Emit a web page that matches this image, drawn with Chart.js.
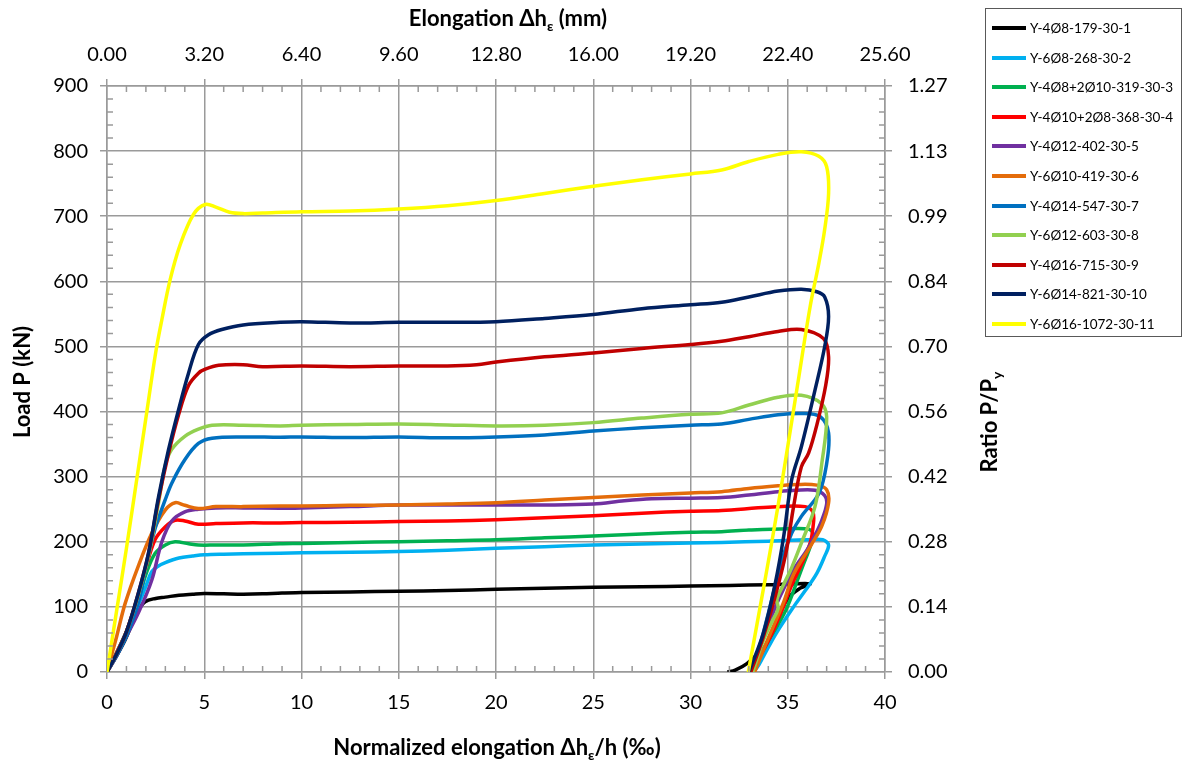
<!DOCTYPE html>
<html>
<head>
<meta charset="utf-8">
<script src="https://cdn.jsdelivr.net/npm/chart.js@4.4.1/dist/chart.umd.min.js"></script>
<style>
body { margin: 0; background: #fff; }
#wrap { position: relative; width: 1188px; height: 764px; }
#legend { position: absolute; left: 985px; top: 8px; width: 197px; height: 329px; border: 1px solid #595959;
          font-family: Lato, sans-serif; font-size: 13.5px; color: #000; box-sizing: border-box; }
.item { position: absolute; left: 6px; height: 20px; display: flex; align-items: center; white-space: nowrap; }
.swatch { width: 34px; height: 4px; margin-right: 4px; }
</style>
</head>
<body>
<div id="wrap">
  <canvas id="loadChart" width="1188" height="764"></canvas>
  <div id="legend"></div>
</div>
<script>
// specimen names (legend order)
const seriesLabels = ['Y-4Ø8-179-30-1', 'Y-6Ø8-268-30-2', 'Y-4Ø8+2Ø10-319-30-3', 'Y-4Ø10+2Ø8-368-30-4',
    'Y-4Ø12-402-30-5', 'Y-6Ø10-419-30-6', 'Y-4Ø14-547-30-7', 'Y-6Ø12-603-30-8',
    'Y-4Ø16-715-30-9', 'Y-6Ø14-821-30-10', 'Y-6Ø16-1072-30-11'];
const seriesColors = ['#000000', '#00B0F0', '#00B050', '#FF0000', '#7030A0', '#E46C0A',
    '#0070C0', '#92D050', '#C00000', '#002060', '#FFFF00'];

// secondary axis tick labels
const elongLabels = ['0.00', '3.20', '6.40', '9.60', '12.80', '16.00', '19.20', '22.40', '25.60'];
const ratioLabels = ['0.00', '0.14', '0.28', '0.42', '0.56', '0.70', '0.84', '0.99', '1.13', '1.27'];

// [normalized elongation (‰), load (kN)]
const s1 = [[0,0],[0.5,25],[0.93,49],[1.3,75],[1.6,95],[1.96,108],[2.5,113],[3,115],[3.7,118],[4.4,119.5],[5,120.5],[6,120],[7,119.5],[8,120],[9,121.5],[10,122],[12.5,123],[15,124],[17.5,125],[20,127],[22.5,128.5],[25,130],[27.5,131],[30,132],[32,133],[34,134],[35,135],[36.15,135.5],[35.6,128],[35.0,113],[34.6,88],[34.3,58],[33.7,35],[32.9,13],[32.3,3],[31.9,0]];
const s2 = [[0,0],[0.5,30],[1,62],[1.5,95],[2,132],[2.3,154],[2.6,162],[3,168],[3.7,175],[4.4,178],[5,180],[6,181],[7,181.5],[8.9,182.5],[10,183],[12.5,184],[15,185],[17.5,187],[20,190],[22.5,192.5],[25,195],[27.5,196.5],[30,198],[31.6,199],[34,201],[36,203],[36.8,203],[37.1,195],[36.9,178],[36.5,152],[35.9,125],[35.3,100],[34.4,59],[33.75,24],[33.4,6],[33.1,0]];
const s3 = [[0,0],[0.5,30],[1,62],[1.6,110],[2,150],[2.47,182],[3,195],[3.5,200],[4.2,197],[4.7,195],[5.6,195],[7,195],[8.9,197],[10,197.5],[12.5,199],[15,200],[17.5,201.5],[20,203],[22.5,206],[25,209],[27.5,212],[30,214.5],[31.6,215.5],[33,218],[35,220],[36.1,219],[36.3,211],[36.15,192],[35.8,165],[35.5,141],[34.9,95],[34.0,48],[33.1,0]];
const s4 = [[0,0],[0.5,30],[1,62],[1.6,115],[2,160],[2.47,203],[3,223],[3.5,233],[4,232],[4.7,227],[5.6,228],[7,229],[8.9,229],[10,229.5],[12.5,230],[15,231],[17.5,232],[20,234],[22.5,237],[25,240],[27.5,244],[30,247],[31.6,248],[34,253],[35.9,254],[36.3,245],[36.3,223],[36.15,198],[35.7,165],[35.2,133],[34.7,95],[34.2,60],[33.65,28],[33.1,0]];
const s5 = [[0,0],[0.5,25],[1,55],[1.6,90],[2.3,141],[2.82,200],[3.33,232],[4,246],[4.7,250],[5.6,252],[7,252],[8.9,251.5],[10,252],[12.5,254],[15,256.5],[17.5,256.5],[20,256.5],[22.5,256.5],[25,258],[26.6,263],[28,266],[30,267],[31.6,268],[33,272],[34.5,277],[35.4,279],[36.4,279],[36.9,271],[37.0,258],[36.75,233],[36.4,210],[36.0,188],[35.3,157],[34.6,116],[34.1,80],[33.57,39],[33.2,0]];
const s6 = [[0,0],[0.5,55],[0.93,105],[1.6,162],[2.3,213],[3,249],[3.5,260],[4,256],[4.7,251],[5.6,254],[7,254],[8.9,255],[10,255],[12.5,256],[15,256.5],[17.5,258],[20,260],[22.5,264],[25,268],[27.5,272],[30,275],[31.6,277],[33,282],[34.5,286],[35.5,288],[36.5,287],[37.0,280],[37.1,260],[36.75,224],[36.2,195],[35.3,150],[34.8,108],[34.26,70],[33.75,34],[33.3,0]];
const s7 = [[0,0],[0.5,25],[1,55],[1.6,105],[2,160],[2.47,220],[3,265],[3.33,290],[4,326],[4.7,351],[5.4,359],[7,361],[8.9,360.5],[10,361],[12.5,360],[15,361],[17.5,359.6],[20,361],[22.5,364],[25,370],[27.5,375],[30,379],[31.6,381],[33,388],[34.5,395],[35.7,397],[36.67,392],[37.1,367],[37.0,320],[36.6,274],[35.7,239],[35.2,213],[34.7,172],[34.0,90],[33.5,35],[33.0,0]];
const s8 = [[0,0],[0.5,28],[1,62],[1.6,118],[2.13,178],[2.65,260],[3,318],[3.33,342],[4,362],[4.7,373],[5.4,379],[7,379],[8.9,378],[10,379],[12.5,380],[15,381],[17.5,379.5],[20,378],[22.5,379],[25,383],[27.5,390],[30,396],[31.6,398],[33,410],[34.5,422],[35.7,425],[36.7,413],[37.0,392],[36.75,320],[36.4,254],[35.7,198],[35.2,160],[34.8,135],[34.45,112],[34.5,97],[34.2,78],[33.75,49],[33.2,0]];
const s9 = [[0,0],[0.5,28],[1,62],[1.6,120],[2.13,182],[2.65,265],[3.16,335],[3.68,395],[4.19,440],[4.7,459],[5.05,465],[5.74,471],[7,472],[8,469],[10,470],[12.5,469],[15,470],[17.5,470],[19,472],[20,476],[22.5,484],[25,490],[27.5,497],[30,503],[31.6,508],[33,515],[34.5,523],[35.7,526],[36.84,512],[37.1,484],[36.95,440],[36.5,380],[36.07,336],[35.7,315],[35.3,254],[34.9,182],[34.3,110],[33.7,50],[33.1,0]];
const s10 = [[0,0],[0.5,28],[1,62],[1.6,120],[2.13,182],[2.65,269],[3.16,341],[3.68,403],[4.19,459],[4.7,503],[5.22,518],[5.9,526],[7,533],[8.9,537],[10,538],[12.5,536],[15,537],[17.5,537],[20,538],[22.5,543],[25,549],[27.5,558],[30,564],[31.6,568],[33,576],[34.5,585],[35.7,588],[36.5,584],[36.9,576],[37.1,546],[36.9,500],[36.4,433],[35.7,346],[35.2,295],[34.8,210],[34.35,135],[33.75,60],[33.0,0]];
const s11 = [[0,0],[0.5,95],[1,190],[1.5,290],[2,390],[2.5,490],[2.82,541],[3.25,603],[3.76,656],[4.45,703],[5.05,718],[5.6,714],[6.3,706],[7,704],[8,705],[10,707],[12.5,708],[15,711],[17.5,716],[20,724],[22.5,735],[25,746],[27.5,756],[30,765],[31.6,771],[33,784],[34.5,795],[35.7,799],[36.6,792],[37.0,776],[37.1,735],[36.9,680],[36.6,628],[36.15,561],[35.5,440],[34.75,300],[34.2,203],[33.55,95],[32.97,0]];

const allSeries = [s1, s2, s3, s4, s5, s6, s7, s8, s9, s10, s11];

const gridColor = '#9a9a9a';
const tickFont = { family: 'Lato', size: 20 };
const titleFont = 'bold 22px Lato';
const subFont = 'bold 14px Lato';

// draws a title made of [text, isSubscript] parts, centered at (cx, cy baseline)
function drawTitle(ctx, parts, cx, cy, angle) {
    ctx.save();
    ctx.translate(cx, cy);
    ctx.rotate(angle);
    ctx.fillStyle = '#000';
    ctx.textBaseline = 'alphabetic';
    let total = 0;
    parts.forEach(p => { ctx.font = p[1] ? subFont : titleFont; total += ctx.measureText(p[0]).width; });
    let x = -total / 2;
    parts.forEach(p => {
        ctx.font = p[1] ? subFont : titleFont;
        ctx.fillText(p[0], x, p[1] ? 5 : 0);
        x += ctx.measureText(p[0]).width;
    });
    ctx.restore();
}

// minor tick marks and axis titles
const axisExtras = {
    id: 'axisExtras',
    afterDraw(chart) {
        const ctx = chart.ctx;
        const a = chart.chartArea;
        const xs = chart.scales.x, ys = chart.scales.y;
        ctx.save();
        ctx.strokeStyle = gridColor;
        ctx.lineWidth = 1.5;
        ctx.beginPath();
        for (let v = 1; v < 40; v++) {
            if (v % 5 === 0) continue;
            const px = xs.getPixelForValue(v);
            ctx.moveTo(px, a.bottom); ctx.lineTo(px, a.bottom - 6);
            ctx.moveTo(px, a.top); ctx.lineTo(px, a.top + 6);
        }
        for (let v = 20; v < 900; v += 20) {
            if (v % 100 === 0) continue;
            const py = ys.getPixelForValue(v);
            ctx.moveTo(a.left, py); ctx.lineTo(a.left + 6, py);
            ctx.moveTo(a.right, py); ctx.lineTo(a.right - 6, py);
        }
        ctx.stroke();
        ctx.restore();

        drawTitle(ctx, [['Elongation Δh', false], ['ε', true], [' (mm)', false]], 508, 26, 0);
        drawTitle(ctx, [['Normalized elongation Δh', false], ['ε', true], ['/h (‰)', false]], 497, 755, 0);
        drawTitle(ctx, [['Load P (kN)', false]], 30, 382, -Math.PI / 2);
        drawTitle(ctx, [['Ratio P/P', false], ['y', true]], 997, 422, -Math.PI / 2);
    }
};

function axisGrid(onChart) {
    return { color: gridColor, lineWidth: 1.5, tickLength: 7, drawOnChartArea: onChart };
}

const datasets = allSeries.map((s, i) => ({
    label: seriesLabels[i],
    data: s.map(p => ({ x: p[0], y: p[1] })),
    borderColor: seriesColors[i],
    backgroundColor: seriesColors[i],
    borderWidth: 3.5,
    pointRadius: 0,
    showLine: true,
    tension: 0.35,
    order: allSeries.length - i,
    xAxisID: 'x',
    yAxisID: 'y'
}));

const chart = new Chart(document.getElementById('loadChart'), {
    type: 'scatter',
    data: { datasets: datasets },
    options: {
        responsive: false,
        animation: false,
        devicePixelRatio: 1,
        layout: { padding: 0 },
        plugins: { legend: { display: false }, tooltip: { enabled: false } },
        scales: {
            x: {
                type: 'linear', position: 'bottom', min: 0, max: 40,
                ticks: { stepSize: 5, font: tickFont, color: '#000', padding: 12, maxRotation: 0 },
                grid: axisGrid(true),
                border: { color: gridColor, width: 1.5 },
                afterFit(s) { s.height = 92; }
            },
            x2: {
                type: 'linear', position: 'top', min: 0, max: 40,
                ticks: { stepSize: 5, font: tickFont, color: '#000', padding: 12, maxRotation: 0,
                         callback: (v, i) => elongLabels[i] },
                grid: axisGrid(false),
                border: { color: gridColor, width: 1.5 },
                afterFit(s) { s.height = 86; }
            },
            y: {
                type: 'linear', position: 'left', min: 0, max: 900,
                ticks: { stepSize: 100, font: tickFont, color: '#000', padding: 12 },
                grid: axisGrid(true),
                border: { color: gridColor, width: 1.5 },
                afterFit(s) { s.width = 107; }
            },
            y2: {
                type: 'linear', position: 'right', min: 0, max: 900,
                ticks: { stepSize: 100, font: tickFont, color: '#000', padding: 16,
                         callback: (v, i) => ratioLabels[i] },
                grid: axisGrid(false),
                border: { color: gridColor, width: 1.5 },
                afterFit(s) { s.width = 303; }
            }
        }
    },
    plugins: [axisExtras]
});

// legend box built from the chart's datasets
const legendBox = document.getElementById('legend');
chart.data.datasets.forEach((ds, i) => {
    const item = document.createElement('div');
    item.className = 'item';
    item.style.top = (9 + i * 29.6) + 'px';
    const sw = document.createElement('span');
    sw.className = 'swatch';
    sw.style.background = ds.borderColor;
    const txt = document.createElement('span');
    txt.textContent = ds.label;
    item.appendChild(sw);
    item.appendChild(txt);
    legendBox.appendChild(item);
});
</script>
</body>
</html>
